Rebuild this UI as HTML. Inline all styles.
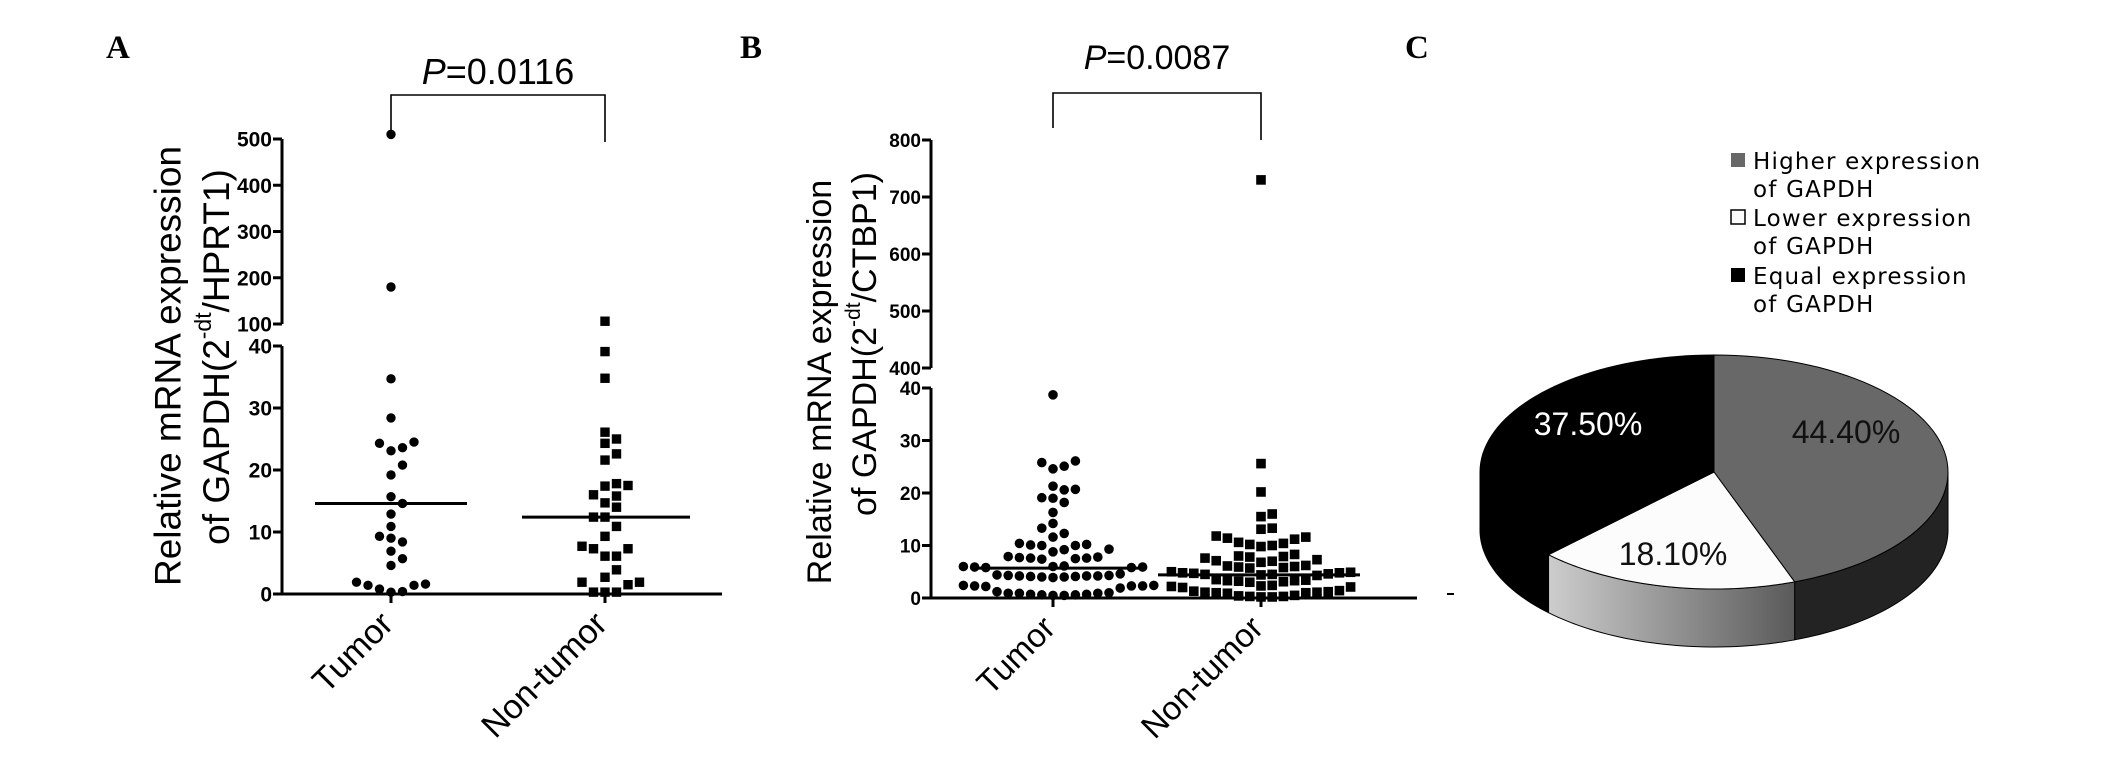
<!DOCTYPE html>
<html><head><meta charset="utf-8"><style>
html,body{margin:0;padding:0;background:#fff;}
svg{display:block;}
</style></head><body>
<svg id="fig" width="2126" height="776" viewBox="0 0 2126 776" xmlns="http://www.w3.org/2000/svg" font-family="Liberation Sans, Arial, sans-serif">
  <rect width="2126" height="776" fill="#fff"/>
  <text x="106" y="58" style="font-family:'Liberation Serif',serif;font-weight:bold;font-size:33px">A</text>
  <text x="740" y="58" style="font-family:'Liberation Serif',serif;font-weight:bold;font-size:33px">B</text>
  <text x="1405" y="58" style="font-family:'Liberation Serif',serif;font-weight:bold;font-size:33px">C</text>

  <g id="panelA"></g>
  <g id="panelB"></g>
  <g id="panelC"></g>
</svg>
<script>
// ---------- Data ----------
const groupNames = ["Tumor", "Non-tumor"];
const aTumor = [510,180,34.7,28.4,24.5,24.3,23.6,23.1,20.8,19.2,15.7,14.6,12.9,10.9,9.3,9.0,8.4,6.9,5.7,4.6,1.9,1.6,1.4,1.4,0.8,0.4,0.3];
const aNonTumor = [106,39.1,34.8,26.1,25.0,24.3,22.6,21.6,17.8,17.5,17.4,16.0,15.8,14.7,14.0,12.4,12.4,10.9,9.3,7.7,7.3,7.3,6.1,6.1,3.9,2.7,1.9,1.9,1.5,0.3,0.3,0.3];
const aMeans = [14.6, 12.4];
const aLowTicks = [0,10,20,30,40];
const aHighTicks = [100,200,300,400,500];
const aPValue = "0.0116";

const bTumor = [38.7,26.1,25.8,25.1,24.6,21.3,20.7,20.6,19.1,19.0,18.2,16.3,14.2,13.3,12.3,11.6,10.4,10.2,10.1,10,10,9.3,9.2,8.8,7.9,7.8,7.7,7.6,7.6,7.5,7.4,6.1,6,6,5.9,5.9,5.8,5.8,4.6,4.4,4.3,4.3,4.2,4.2,4.2,4.1,4.1,4.0,4.0,3.9,2.4,2.4,2.3,2.3,2.3,2.2,1.9,1.2,1.0,0.9,0.9,0.7,0.6,0.5,0.5,0.6,0.7,0.9];
const bNonTumor = [730,25.6,20.2,16.0,15.5,13.3,13.1,11.8,11.6,11.4,11.2,10.6,10.4,10.2,10.0,9.8,8.3,8.0,7.9,7.8,7.6,7.3,7.1,7.0,6.8,6.2,6.1,6.0,5.9,5.8,5.7,5.0,4.9,4.8,4.8,4.7,4.6,4.5,4.5,4.4,4.3,3.5,3.4,3.3,3.3,3.2,3.1,3.0,2.4,2.3,2.2,2.1,2.0,1.4,1.3,1.2,1.1,1.1,1.0,1.0,0.9,0.5,0.4,0.3,0.3,0.2,0.2];
const bMeans = [5.7, 4.4];
const bLowTicks = [0,10,20,30,40];
const bHighTicks = [400,500,600,700,800];
const bPValue = "0.0087";

const pieLabels = ["Higher expression of GAPDH","Lower expression of GAPDH","Equal expression of GAPDH"];
const pieValues = [44.4, 18.1, 37.5];
const pieValueText = ["44.40%","18.10%","37.50%"];

// ---------- helpers ----------
const NS = "http://www.w3.org/2000/svg";
function mk(tag, attrs, parent){
  const e = document.createElementNS(NS, tag);
  for (const k in attrs) e.setAttribute(k, attrs[k]);
  parent.appendChild(e);
  return e;
}

function beeswarm(values, cx, yFn, step){
  const sorted = values.map((v,i)=>({v,i})).sort((a,b)=>a.v-b.v);
  const placed = [];
  for (const p of sorted){
    const y = yFn(p.v);
    for (let n=0; n<60; n++){
      const k = n===0?0:(n%2===1?(n+1)/2:-n/2);
      const x = cx + k*step;
      let ok = true;
      for (const q of placed){
        const dx=q.x-x, dy=q.y-y;
        if (dx*dx+dy*dy < step*step*0.9){ok=false;break;}
      }
      if (ok){placed.push({x,y,v:p.v});break;}
    }
  }
  return placed;
}

function drawScatter(cfg){
  const g = document.getElementById(cfg.id);
  const t1 = mk("text",{x:0,y:0,"font-size":cfg.titleSize,"text-anchor":"middle","dominant-baseline":"central",
    transform:`translate(${cfg.t1x},${cfg.t1y}) rotate(-90)`},g);
  
  
  t1.textContent = "Relative mRNA expression";
  const t2 = mk("text",{x:0,y:0,"font-size":cfg.titleSize,"text-anchor":"middle","dominant-baseline":"central",
    transform:`translate(${cfg.t2x},${cfg.t2y}) rotate(-90)`},g);
  
  
  const s1 = mk("tspan",{},t2); s1.textContent="of GAPDH(2";
  const s2 = mk("tspan",{"baseline-shift":"super","font-size":cfg.titleSize*0.62},t2); s2.textContent="-dt";
  const s3 = mk("tspan",{},t2); s3.textContent="/"+cfg.ref+")";

  const ax = cfg.axisX;
  const lowTop = cfg.y(cfg.lowTicks[cfg.lowTicks.length-1]);
  const highBot = cfg.y(cfg.highTicks[0]);
  const highTop = cfg.y(cfg.highTicks[cfg.highTicks.length-1]);
  const ya1 = mk("line",{x1:ax,y1:cfg.y(0),x2:ax,y2:lowTop,stroke:"#000","stroke-width":3},g);
  
  
  const ya2 = mk("line",{x1:ax,y1:highBot,x2:ax,y2:highTop,stroke:"#000","stroke-width":3},g);
  
  
  const xa = mk("line",{x1:ax-8,y1:cfg.y(0),x2:cfg.axisEnd,y2:cfg.y(0),stroke:"#000","stroke-width":3},g);
  
  
  for (const tv of cfg.lowTicks.concat(cfg.highTicks)){
    const yy = cfg.y(tv);
    const tk = mk("line",{x1:ax-9,y1:yy,x2:ax,y2:yy,stroke:"#000","stroke-width":3},g);
    
    
    const tl = mk("text",{x:ax-10,y:yy+cfg.tickSize*0.36,"font-size":cfg.tickSize,"font-weight":"bold","text-anchor":"end"},g);
    
    
    tl.textContent = tv;
  }
  cfg.cx.forEach((cx,i)=>{
    const tk = mk("line",{x1:cx,y1:cfg.y(0),x2:cx,y2:cfg.y(0)+9,stroke:"#000","stroke-width":3},g);
    
    
    const lx = cx+cfg.labelDx, ly = cfg.y(0)+cfg.labelDy;
    const xl = mk("text",{x:0,y:0,"font-size":cfg.catSize,"text-anchor":"end",transform:`translate(${lx},${ly}) rotate(-45)`},g);
    
    
    xl.textContent = groupNames[i];
  });
  const [c0,c1] = cfg.cx;
  const br = mk("polyline",{points:`${c0},${cfg.brL} ${c0},${cfg.brTop} ${c1},${cfg.brTop} ${c1},${cfg.brR}`,fill:"none",stroke:"#000","stroke-width":1.6},g);
  
  
  const pt = mk("text",{x:(c0+c1)/2,y:cfg.pY,"font-size":cfg.pSize,"text-anchor":"middle"},g);
  
  
  const pi = mk("tspan",{"font-style":"italic"},pt); pi.textContent="P";
  const pv = mk("tspan",{},pt); pv.textContent="="+cfg.p;
  [cfg.series[0],cfg.series[1]].forEach((vals,si)=>{
    const pts = beeswarm(vals, cfg.cx[si], cfg.y, cfg.step);
    for (const p of pts){
      let m;
      if (si===0){
        m = mk("circle",{cx:p.x,cy:p.y,r:cfg.r,fill:"#000"},g);
        
      } else {
        m = mk("rect",{x:p.x-cfg.r,y:p.y-cfg.r,width:cfg.r*2,height:cfg.r*2,fill:"#000"},g);
        
      }
      
    }
    const my = cfg.y(cfg.means[si]);
    const ml = mk("line",{x1:cfg.cx[si]-cfg.meanHalf[si][0],y1:my,x2:cfg.cx[si]+cfg.meanHalf[si][1],y2:my,stroke:"#000","stroke-width":3},g);
    
    
  });
}

drawScatter({
  id:"panelA", ref:"HPRT1", titleSize:37, t1x:168, t1y:366, t2x:216, t2y:357,
  axisX:282, axisEnd:722, cx:[391,605],
  y:v=> v<=40 ? 594 - v*6.2 : 324 - (v-100)*185/400,
  lowTicks:aLowTicks, highTicks:aHighTicks, tickSize:21,
  labelDx:4, labelDy:32, catSize:34,
  brTop:95, brL:136, brR:142, pY:84, pSize:36, p:aPValue,
  series:[aTumor,aNonTumor], means:aMeans, step:11.5, r:4.7, meanHalf:[[76,76],[83,85]]
});
drawScatter({
  id:"panelB", ref:"CTBP1", titleSize:34, t1x:820, t1y:382, t2x:865, t2y:344,
  axisX:931, axisEnd:1417, cx:[1053,1261],
  y:v=> v<=40 ? 598 - v*5.25 : 368 - (v-400)*0.57,
  lowTicks:bLowTicks, highTicks:bHighTicks, tickSize:19,
  labelDx:4, labelDy:32, catSize:33,
  brTop:93, brL:128, brR:140, pY:69, pSize:34, p:bPValue,
  series:[bTumor,bNonTumor], means:bMeans, step:11.2, r:4.8, meanHalf:[[81,92],[103,99]]
});
(function(){
  const g=document.getElementById("panelB");
  const d=mk("line",{x1:1447,y1:594,x2:1454,y2:594,stroke:"#000","stroke-width":2},g);
  
  
})();

// ---------- Pie ----------
(function(){
  const g = document.getElementById("panelC");
  const cx=1714, cy=472, rx=234, ry=117, depth=58;
  const topCol=["#686868","#fcfcfc","#000000"];
  const sideCol=["#232323","url(#sideGrad)","#000000"];
  const defs = mk("defs",{},g);
  const lg = mk("linearGradient",{id:"sideGrad",x1:"0",y1:"0",x2:"1",y2:"0"},defs);
  mk("stop",{offset:"0","stop-color":"#cdcdcd"},lg);
  mk("stop",{offset:"1","stop-color":"#5a5a5a"},lg);
  const P=(t,dy=0)=>[cx+rx*Math.sin(t), cy-ry*Math.cos(t)+dy];
  const total = pieValues.reduce((a,b)=>a+b,0);
  let acc=0;
  const angles = pieValues.map(v=>{const a0=acc/total*2*Math.PI; acc+=v; return [a0, acc/total*2*Math.PI];});
  angles.forEach(([a0,a1],i)=>{
    const s=Math.max(a0,Math.PI/2), e=Math.min(a1,1.5*Math.PI);
    if (e<=s) return;
    const pts=[];
    for(let k=0;k<=40;k++){pts.push(P(s+(e-s)*k/40));}
    for(let k=40;k>=0;k--){pts.push(P(s+(e-s)*k/40,depth));}
    const sp = mk("polygon",{points:pts.map(p=>p.join(",")).join(" "),fill:sideCol[i],stroke:"#000","stroke-width":1},g);
    
    
  });
  angles.forEach(([a0,a1],i)=>{
    const pts=[[cx,cy]];
    for(let k=0;k<=60;k++){pts.push(P(a0+(a1-a0)*k/60));}
    const tp = mk("polygon",{points:pts.map(p=>p.join(",")).join(" "),fill:topCol[i],stroke:"#000","stroke-width":1},g);
    
    
  });
  const lblPos=[[1846,443,"#111"],[1673,565,"#111"],[1588,435,"#fff"]];
  pieValueText.forEach((t,i)=>{
    const tx = mk("text",{x:lblPos[i][0],y:lblPos[i][1],"font-size":32,"text-anchor":"middle",fill:lblPos[i][2]},g);
    
    
    tx.textContent=t;
  });
  const legY=[169,226,284];
  pieLabels.forEach((lab,i)=>{
    const sw = mk("rect",{x:1731,y:legY[i]-16,width:14,height:14,fill:topCol[i],stroke:i===1?"#000":"none","stroke-width":1.5},g);
    
    
    const words=lab.split(" of ");
    const l1=mk("text",{x:1753,y:legY[i],style:"font-family:'DejaVu Sans',sans-serif;font-size:23px;letter-spacing:1.2px"},g);
    
    
    l1.textContent=words[0];
    const l2=mk("text",{x:1753,y:legY[i]+28,style:"font-family:'DejaVu Sans',sans-serif;font-size:23px;letter-spacing:1.2px"},g);
    
    
    l2.textContent="of "+words[1];
  });
})();
</script>
</body></html>
